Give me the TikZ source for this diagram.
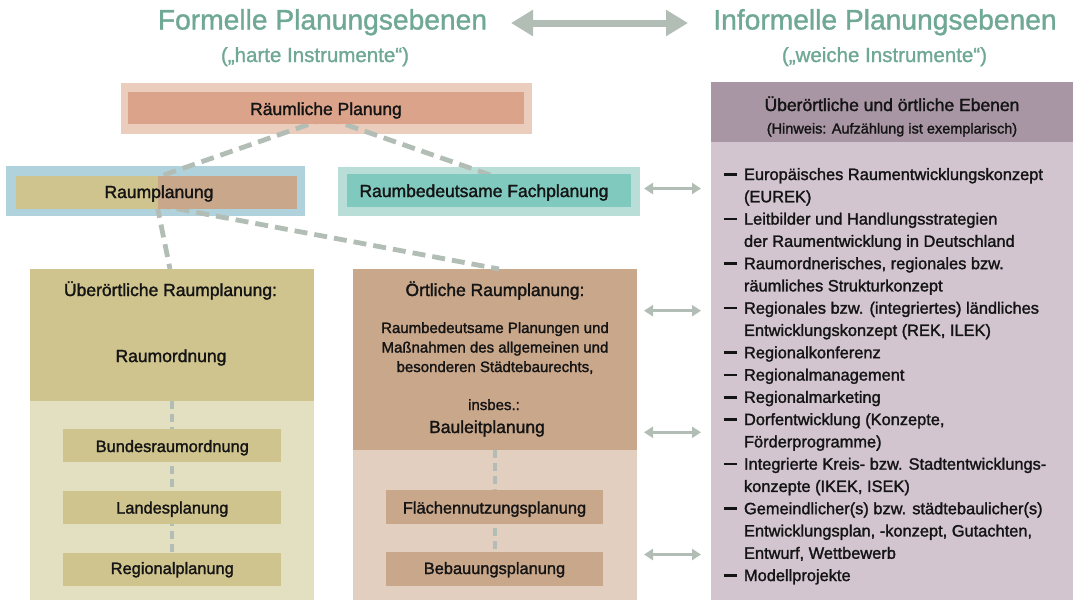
\documentclass[tikz,border=0pt]{standalone}
\usepackage{fontspec}
\setmainfont{Liberation Sans}
\newfontfamily\medfont{Liberation Sans}[FakeBold=1.6]
\newfontfamily\titlefont{Liberation Sans}[FakeBold=1.2]
\usetikzlibrary{arrows.meta}
\definecolor{titlec}{RGB}{112,168,150}
\definecolor{linec}{RGB}{178,190,181}
\definecolor{rpout}{RGB}{235,205,189}
\definecolor{rpin}{RGB}{219,164,138}
\definecolor{rplout}{RGB}{176,210,220}
\definecolor{ocker}{RGB}{207,196,141}
\definecolor{braun}{RGB}{201,167,139}
\definecolor{fachout}{RGB}{185,222,216}
\definecolor{fachin}{RGB}{128,201,191}
\definecolor{ockerhell}{RGB}{227,223,193}
\definecolor{braunhell}{RGB}{227,207,191}
\definecolor{mauve}{RGB}{168,150,165}
\definecolor{mauvehell}{RGB}{210,197,208}
\definecolor{txt}{RGB}{20,20,20}
\begin{document}
\begin{tikzpicture}[x=1pt,y=-1pt,
  every node/.style={inner sep=0pt,outer sep=0pt},
  boxnode/.style={anchor=north west,draw=none},
  lbl/.style={anchor=base,text=txt,font=\medfont\fontsize{17.5}{20}\selectfont},
  sublbl/.style={anchor=base,text=txt,font=\medfont\fontsize{16.4}{20}\selectfont},
  smalllbl/.style={anchor=base,text=txt,font=\medfont\fontsize{15}{19}\selectfont},
  listlbl/.style={anchor=base west,text=txt,font=\medfont\fontsize{16.4}{20}\selectfont},
  titlelbl/.style={anchor=base,text=titlec,font=\titlefont\fontsize{28.2}{32}\selectfont},
  subtitlelbl/.style={anchor=base,text=titlec,font=\titlefont\fontsize{20.5}{24}\selectfont},
  dashline/.style={draw=linec,line width=4.8pt,dash pattern=on 13pt off 7pt},
  vdashline/.style={draw=linec,line width=4.5pt,dash pattern=on 8pt off 5pt},
  smallarrow/.style={draw=linec,line width=3pt,{Triangle[length=9pt,width=11pt]}-{Triangle[length=9pt,width=11pt]}},
  bigarrow/.style={draw=linec,line width=7pt,{Triangle[length=22pt,width=25pt]}-{Triangle[length=22pt,width=25pt]}}
]
\useasboundingbox[fill=white] (0,0) rectangle (1076,600);

% titles
\node[titlelbl] (tf) at (322.5,29.5) {Formelle Planungsebenen};
\node[subtitlelbl] (stf) at (315,62) {(„harte Instrumente“)};
\node[titlelbl] (ti) at (885,29.5) {Informelle Planungsebenen};
\node[subtitlelbl] (sti) at (884.5,62) {(„weiche Instrumente“)};
\coordinate (bal) at (511,23);
\coordinate (bar) at (688,23);
\draw[bigarrow] (bal) -- (bar);

% outer boxes
\node[boxnode,fill=rpout,minimum width=411pt,minimum height=51pt] (rpo) at (121,83) {};
\node[boxnode,fill=rplout,minimum width=299pt,minimum height=50pt] (rplo) at (6,166) {};
\node[boxnode,fill=fachout,minimum width=302pt,minimum height=49pt] (fo) at (338,167) {};

% big boxes
\node[boxnode,fill=ockerhell,minimum width=284pt,minimum height=200pt] (uel) at (30,400) {};
\node[boxnode,fill=ocker,minimum width=284pt,minimum height=132pt] (ued) at (30,269) {};
\node[boxnode,fill=braunhell,minimum width=284pt,minimum height=151pt] (oel) at (353,449) {};
\node[boxnode,fill=braun,minimum width=284pt,minimum height=181pt] (oed) at (353,269) {};

% right panel
\node[boxnode,fill=mauvehell,minimum width=362pt,minimum height=459pt] (rb) at (711,141) {};
\node[boxnode,fill=mauve,minimum width=362pt,minimum height=60pt] (rh) at (711,81.5) {};

% connectors (top)
\coordinate (apex) at (327,118);
\coordinate (rplTop) at (158,177);
\coordinate (fTop) at (493,176);
\draw[dashline] (apex) -- (rplTop);
\draw[dashline] (apex) -- (fTop);
\coordinate (rplBot) at (157,205);
\coordinate (ueTop) at (170,269);
\coordinate (oeTop) at (499,269);
\draw[dashline] (rplBot) -- (ueTop);
\draw[dashline] (rplBot) -- (oeTop);

% inner boxes
\node[boxnode,fill=rpin,minimum width=396pt,minimum height=32.3pt] (rpi) at (128.3,91.7) {};
\node[boxnode,fill=ocker,minimum width=142pt,minimum height=33pt] (rpla) at (16,176) {};
\node[boxnode,fill=braun,minimum width=139pt,minimum height=33pt] (rplb) at (158,176) {};
\node[boxnode,fill=fachin,minimum width=284pt,minimum height=32.7pt] (fi) at (347,174) {};

% sub boxes left
\draw[vdashline] (ued.south) -- (uel.south |- 0,553);
\node[boxnode,fill=ocker,minimum width=218pt,minimum height=33pt] (ub1) at (63.3,428.5) {};
\node[boxnode,fill=ocker,minimum width=218pt,minimum height=33pt] (ub2) at (63.3,491) {};
\node[boxnode,fill=ocker,minimum width=218pt,minimum height=33pt] (ub3) at (63.3,552.5) {};

% sub boxes right
\draw[vdashline] (oed.south) -- (oel.south |- 0,552);
\node[boxnode,fill=braun,minimum width=217pt,minimum height=34pt] (ob1) at (386,490) {};
\node[boxnode,fill=braun,minimum width=217pt,minimum height=34pt] (ob2) at (386,551.5) {};

% labels
\node[lbl] (trp) at (326,115) {Räumliche Planung};
\node[lbl] (trpl) at (159,198) {Raumplanung};
\node[lbl] (tf2) at (484,197) {Raumbedeutsame Fachplanung};
\node[lbl] (tue) at (170.5,296) {Überörtliche Raumplanung:};
\node[lbl] (tro) at (171,362) {Raumordnung};
\node[sublbl] (tb1) at (172.3,452) {Bundesraumordnung};
\node[sublbl] (tb2) at (172.3,513.5) {Landesplanung};
\node[sublbl] (tb3) at (172.3,574) {Regionalplanung};
\node[lbl] (toe) at (495,296) {Örtliche Raumplanung:};
\node[smalllbl] (tp1) at (495,333) {Raumbedeutsame Planungen und};
\node[smalllbl] (tp2) at (495,352.5) {Maßnahmen des allgemeinen und};
\node[smalllbl] (tp3) at (495,372) {besonderen Städtebaurechts,};
\node[smalllbl] (tp4) at (494,410) {insbes.:};
\node[lbl] (tblp) at (487,433) {Bauleitplanung};
\node[sublbl] (to1) at (494.5,513.5) {Flächennutzungsplanung};
\node[sublbl] (to2) at (494.5,574) {Bebauungsplanung};

% header right
\node[lbl] (th1) at (892,111) {Überörtliche und örtliche Ebenen};
\node[anchor=base,text=txt,font=\medfont\fontsize{14.5}{18}\selectfont] (th2) at (892,133.5) {(Hinweis: Aufzählung ist exemplarisch)};

% list
\foreach \n/\d/\t in {
 1/1/{Europäisches Raumentwicklungskonzept},
 2/0/{(EUREK)},
 3/1/{Leitbilder und Handlungsstrategien},
 4/0/{der Raumentwicklung in Deutschland},
 5/1/{Raumordnerisches, regionales bzw.},
 6/0/{räumliches Strukturkonzept},
 7/1/{Regionales bzw. (integriertes) ländliches},
 8/0/{Entwicklungskonzept (REK, ILEK)},
 9/1/{Regionalkonferenz},
 10/1/{Regionalmanagement},
 11/1/{Regionalmarketing},
 12/1/{Dorfentwicklung (Konzepte,},
 13/0/{Förderprogramme)},
 14/1/{Integrierte Kreis- bzw. Stadtentwicklungs-},
 15/0/{konzepte (IKEK, ISEK)},
 16/1/{Gemeindlicher(s) bzw. städtebaulicher(s)},
 17/0/{Entwicklungsplan, -konzept, Gutachten,},
 18/0/{Entwurf, Wettbewerb},
 19/1/{Modellprojekte}}{
  \node[listlbl] (li\n) at (744,{180+(\n-1)*22.28}) {\t};
  \ifnum\d=1
    \node[anchor=base west,text=txt] (ld\n) at (723.5,{180+(\n-1)*22.28}) {\rule[4.3pt]{13.5pt}{2.6pt}};
  \fi
}

% small arrows
\coordinate (a1l) at (644,188.5);
\coordinate (a1r) at (701,188.5);
\coordinate (a2l) at (644,310.7);
\coordinate (a2r) at (701,310.7);
\coordinate (a3l) at (644,432.3);
\coordinate (a3r) at (701,432.3);
\coordinate (a4l) at (644,554.5);
\coordinate (a4r) at (701,554.5);
\draw[smallarrow] (a1l) -- (a1r);
\draw[smallarrow] (a2l) -- (a2r);
\draw[smallarrow] (a3l) -- (a3r);
\draw[smallarrow] (a4l) -- (a4r);
\end{tikzpicture}
\end{document}
